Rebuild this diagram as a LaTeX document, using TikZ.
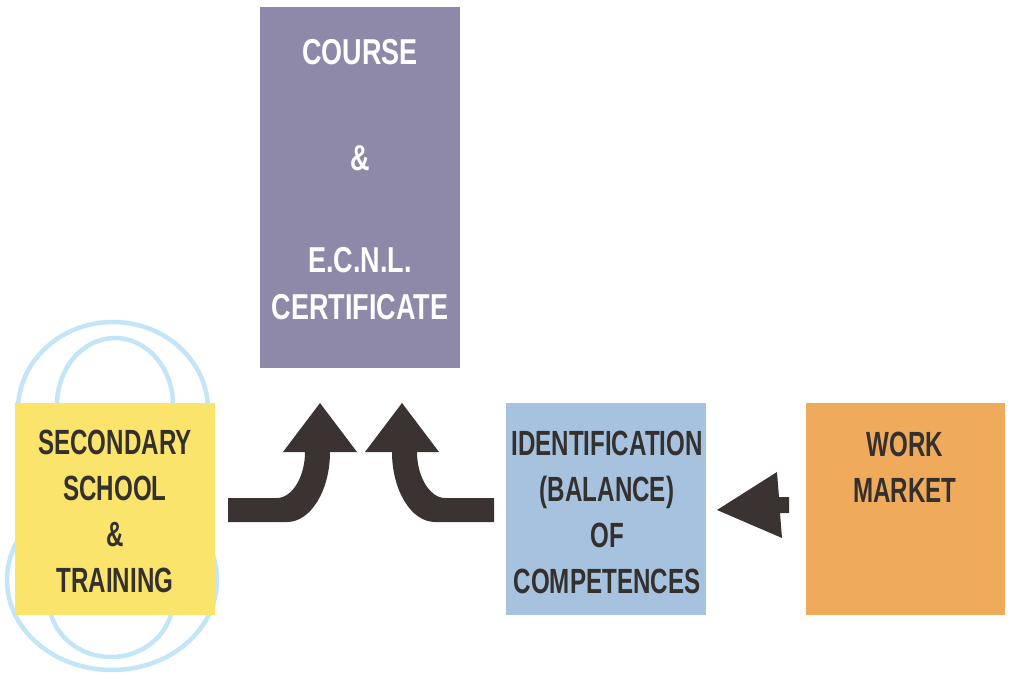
\documentclass[tikz,border=0pt]{standalone}
\usepackage{fontspec}
\newfontfamily\condA[FakeStretch=0.69]{Liberation Sans}
\newfontfamily\condB[FakeStretch=0.75]{Liberation Sans}
\definecolor{purp}{HTML}{8E89A8}
\definecolor{yel}{HTML}{FAE46B}
\definecolor{lblue}{HTML}{A6C2DE}
\definecolor{orng}{HTML}{F0AA5C}
\definecolor{arr}{HTML}{3A3331}
\definecolor{loopc}{HTML}{C3E5F8}
\definecolor{dtext}{HTML}{33302E}
\begin{document}
\begin{tikzpicture}[x=1pt,y=-1pt,
  box/.style={draw=none,inner sep=0pt,minimum width=200pt,minimum height=212pt},
  btxt/.style={font=\condA\bfseries\fontsize{35}{46}\selectfont,text=dtext,align=center,inner sep=0pt},
  ctxt/.style={font=\condB\bfseries\fontsize{36}{46}\selectfont,text=white,inner sep=0pt,text height=26pt,text depth=0pt},
  loopline/.style={draw=loopc,line width=4.5pt},
  arrowshape/.style={fill=arr,draw=none}]
\useasboundingbox (0,0) rectangle (1010,676);
% light blue loops behind the yellow box
\draw[loopline] (113,410) ellipse [x radius=95pt, y radius=88pt];
\draw[loopline] (115,405) ellipse [x radius=58pt, y radius=67pt];
\draw[loopline] (112,580) ellipse [x radius=105pt, y radius=90pt];
\draw[loopline] (111,600) ellipse [x radius=62pt, y radius=57pt];
% boxes
\node[box,fill=purp,minimum height=361pt] (course) at (360,187.5) {};
\node[box,fill=yel] (school) at (115,509) {};
\node[box,fill=lblue] (ident) at (606,509) {};
\node[box,fill=orng,minimum width=199pt] (work) at (905.5,509) {};
% texts
\node[ctxt] (c1) at (360,52) {COURSE};
\node[ctxt] (c2) at (360,158) {\&};
\node[ctxt] (c3) at (360,260) {E.C.N.L.};
\node[ctxt] (c4) at (360,307) {CERTIFICATE};
\node[btxt] (schoolT) at (115,511) {SECONDARY\\SCHOOL\\\&\\TRAINING};
\node[btxt] (identT) at (607,512) {IDENTIFICATION\\(BALANCE)\\OF\\COMPETENCES};
\node[btxt] (workT) at (905,467) {WORK\\MARKET};
% arrows
\fill[arrowshape] (228,498) -- (277,498) .. controls (292,498) and (305,477) .. (305,452)
  -- (283,452) -- (320,403) -- (357,452) -- (330,452)
  .. controls (330,490) and (311,522) .. (287,522) -- (228,522) -- cycle;
\fill[arrowshape] (494,498) -- (445,498) .. controls (430,498) and (417,477) .. (417,452)
  -- (439,452) -- (402,403) -- (365,452) -- (392,452)
  .. controls (392,490) and (411,522) .. (435,522) -- (494,522) -- cycle;
\fill[arrowshape] (717,510) -- (777,472) -- (779,497) -- (789,497) -- (789,513) -- (780,513) -- (782,538) -- cycle;
\end{tikzpicture}
\end{document}
